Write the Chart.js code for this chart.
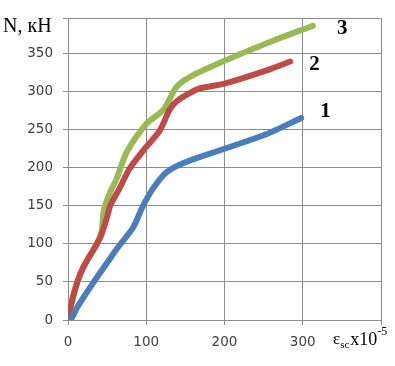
<!DOCTYPE html>
<html>
<head>
<meta charset="utf-8">
<script src="https://cdn.jsdelivr.net/npm/chart.js@4"></script>
<style>
  html, body { margin: 0; padding: 0; background: #fff; }
  #wrap { width: 395px; height: 366px; position: relative; }
</style>
</head>
<body>
<div id="wrap"><canvas id="chart" width="395" height="366"></canvas></div>
<script>
// strain (x10^-5) and load N (kN)
const strain1 = [0, 5, 12, 33, 50, 65, 83, 96, 109, 126, 150, 198, 254, 298];
const load1 = [0, 3, 17, 50, 75, 97, 121, 150, 173, 194, 207, 224, 244, 265];

const strain2 = [0, 4, 12, 20, 37, 42, 50, 54, 66, 79, 100, 117, 130, 139, 156, 169, 200, 250, 284];
const load2 = [0, 20, 50, 70, 100, 110, 135, 150, 173, 199, 227, 248, 276, 287, 298, 304, 310, 326, 339];

const strain3 = [0, 2, 4, 12, 20, 37, 43, 46, 54, 62, 75, 100, 122, 139, 156, 198, 254, 313];
const load3 = [0, 10, 22, 50, 70, 100, 117, 145, 168, 185, 220, 257, 276, 306, 319, 339, 363, 386];

const curveNames = ["1", "2", "3"];
const curveColors = ["#4a7ebb", "#be4b48", "#98b954"];

const xTicks = [0, 100, 200, 300];
const yTicks = [0, 50, 100, 150, 200, 250, 300, 350];

function toPoints(xs, ys) {
  return xs.map((x, i) => ({ x: x, y: ys[i] }));
}

// where each curve number sits relative to the end of its curve (px)
const nameShift = [[19, -6], [19, 3], [24, 3]];

// draws the axis titles and the curve numbers
const textPlugin = {
  id: "texts",
  afterDraw(chart) {
    const ctx = chart.ctx;
    const xs = chart.scales.x;
    const ys = chart.scales.y;
    ctx.save();
    ctx.fillStyle = "#000";
    ctx.textBaseline = "alphabetic";

    // y title
    ctx.font = "20px 'Liberation Serif'";
    ctx.fillText("N, кН", 3, 32);

    // x title: ε sc x10 -5
    let x = 333;
    ctx.font = "17px 'Liberation Serif'";
    ctx.fillText("ε", x, 344);
    x += ctx.measureText("ε").width;
    ctx.font = "11px 'Liberation Serif'";
    ctx.fillText("sc", x, 348);
    x += ctx.measureText("sc").width + 1;
    ctx.font = "18px 'Liberation Serif'";
    ctx.fillText("x10", x, 345);
    x += ctx.measureText("x10").width;
    ctx.font = "12px 'Liberation Serif'";
    ctx.fillText("-5", x, 335);

    // curve numbers next to the end of each curve
    ctx.font = "bold 21px 'Liberation Serif'";
    ctx.textBaseline = "middle";
    chart.data.datasets.forEach((ds, i) => {
      const last = ds.data[ds.data.length - 1];
      const px = xs.getPixelForValue(last.x) + nameShift[i][0];
      const py = ys.getPixelForValue(last.y) + nameShift[i][1];
      ctx.fillText(curveNames[i], px, py);
    });
    ctx.restore();
  }
};

const tickFont = { family: "'DejaVu Sans'", size: 13.5 };

new Chart(document.getElementById("chart"), {
  type: "line",
  data: {
    datasets: [
      { label: curveNames[0], data: toPoints(strain1, load1), borderColor: curveColors[0] },
      { label: curveNames[1], data: toPoints(strain2, load2), borderColor: curveColors[1] },
      { label: curveNames[2], data: toPoints(strain3, load3), borderColor: curveColors[2] }
    ].map(d => Object.assign(d, {
      borderWidth: 6,
      pointRadius: 0,
      tension: 0.3,
      fill: false,
      borderCapStyle: "round",
      borderJoinStyle: "round"
    }))
  },
  options: {
    responsive: false,
    animation: false,
    layout: { padding: { top: 14, right: 14, left: 0, bottom: 0 } },
    plugins: { legend: { display: false }, tooltip: { enabled: false } },
    scales: {
      x: {
        type: "linear",
        min: 0,
        max: 400,
        afterFit(scale) { scale.height = 46; },
        afterBuildTicks(scale) {
          scale.ticks = xTicks.concat([400]).map(v => ({ value: v }));
        },
        ticks: {
          font: tickFont,
          color: "#404040",
          padding: 9,
          maxRotation: 0,
          callback: v => (xTicks.includes(v) ? String(v) : "")
        },
        grid: { color: "#8c8c8c", lineWidth: 1, tickLength: 5 },
        border: { color: "#8c8c8c" }
      },
      y: {
        type: "linear",
        min: 0,
        max: 396,
        afterFit(scale) { scale.width = 68; },
        afterBuildTicks(scale) {
          scale.ticks = yTicks.concat([396]).map(v => ({ value: v }));
        },
        ticks: {
          font: tickFont,
          color: "#404040",
          padding: 10,
          callback: v => (yTicks.includes(v) ? String(v) : "")
        },
        grid: { color: "#8c8c8c", lineWidth: 1, tickLength: 5 },
        border: { color: "#8c8c8c" }
      }
    }
  },
  plugins: [textPlugin]
});
</script>
</body>
</html>
